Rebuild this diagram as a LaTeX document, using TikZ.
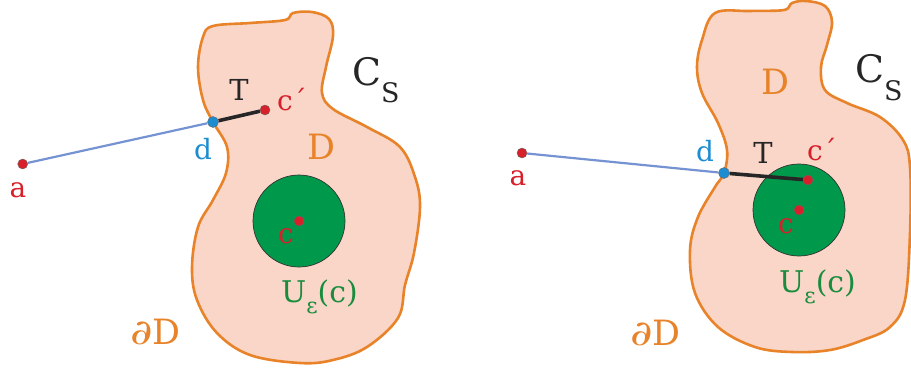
\documentclass[tikz,border=0pt]{standalone}
\usepackage{fontspec}
\setmainfont{DejaVu Serif}
\newfontfamily\lserif{DejaVu Serif}
\definecolor{peach}{HTML}{F9D6C8}
\definecolor{orng}{HTML}{E8832A}
\definecolor{grn}{HTML}{00984A}
\definecolor{rd}{HTML}{D7202A}
\definecolor{blu}{HTML}{1E8CD0}
\definecolor{lblu}{HTML}{7593D2}
\definecolor{lblgrn}{HTML}{1A8C3E}
\tikzset{
  region/.style={draw=orng, line width=2.6bp, fill=peach},
  nbhd/.style={fill=grn, draw=black!80, line width=0.7bp},
  reddot/.style={circle, fill=rd, draw=black!60, line width=0.4bp, inner sep=0pt, minimum size=10bp},
  bludot/.style={circle, fill=blu, draw=black!60, line width=0.4bp, inner sep=0pt, minimum size=11bp},
  ray/.style={draw=lblu, line width=2.2bp},
  seg/.style={draw=black!85, line width=3.6bp},
  lbl/.style={inner sep=0pt, font=\lserif\fontsize{28}{28}\selectfont},
  redlbl/.style={lbl, text=rd},
  blulbl/.style={lbl, text=blu},
  blklbl/.style={lbl, text=black!85, font=\lserif\fontsize{29}{29}\selectfont},
  Dlbl/.style={inner sep=0pt, text=orng, font=\lserif\fontsize{35}{35}\selectfont},
  Cslbl/.style={inner sep=0pt, text=black!85, anchor=base west, font=\lserif\fontsize{38}{38}\selectfont},
  Ulbl/.style={inner sep=0pt, text=lblgrn, anchor=base west, font=\lserif\fontsize{30}{30}\selectfont},
  dDlbl/.style={inner sep=0pt, text=orng, anchor=base west, font=\lserif\fontsize{35}{35}\selectfont},
}
\newcommand{\subS}[1]{\raisebox{#1}{\fontsize{27}{27}\selectfont S}}
\newcommand{\subeps}{\raisebox{-11bp}{\fontsize{22}{22}\selectfont ε}}
\newcommand{\bdry}{\scalebox{1.25}[1]{∂}D}
\begin{document}
\begin{tikzpicture}[x=1bp, y=-1bp]
\useasboundingbox (0,0) rectangle (911,367);
% ---------- left figure ----------
\draw[region] plot[smooth cycle, tension=0.6] coordinates {
 (213,26) (250,23) (285,20) (293,13) (312,12) (329,19) (333,36) (326,67) (322,93)
 (333,109) (367,127) (400,147) (415,177) (420,207) (414,253) (405,285) (398,318)
 (367,347) (333,360) (300,363) (250,355) (217,333) (197,300) (192,267) (198,227)
 (213,200) (226,173) (227,147) (213,122) (203,100) (198,67) (203,37)};
\draw[nbhd] (299,221) circle[radius=46];
\node[reddot] (La) at (22.7,164) {};
\node[bludot] (Ld) at (213,122) {};
\node[reddot] (Lcp) at (265,110) {};
\node[reddot] (Lc) at (299,221) {};
\draw[ray] (La) -- (Ld);
\draw[seg] (Ld) -- (Lcp);
\node[redlbl] (Lal) at (18,190) {a};
\node[blulbl] (Ldl) at (203,149) {d};
\node[blklbl] (LT) at (239,90) {T};
\node[redlbl, anchor=base west] (Lcpl) at (277,110) {c´};
\node[Dlbl] (LD) at (321,147) {D};
\node[Cslbl] (LCs) at (352,85) {C\subS{-17bp}};
\node[redlbl] (Lcl) at (286,236) {c};
\node[Ulbl] (LU) at (281,302) {U\subeps(c)};
\node[dDlbl] (LdD) at (130,344) {\bdry};
% ---------- right figure ----------
\draw[region] plot[smooth cycle, tension=0.6] coordinates {
 (715,13) (750,11) (784,10) (792,3) (806,1) (825,6) (832,22) (827,45) (821,67)
 (825,90) (847,103) (880,117) (903,140) (910,167) (910,233) (905,300) (890,327)
 (863,340) (830,350) (792,352) (755,347) (718,327) (695,293) (690,250) (698,217)
 (715,187) (724,173) (727,150) (718,123) (702,93) (697,67) (702,40)};
\draw[nbhd] (799,210) circle[radius=46];
\node[reddot] (Ra) at (522,153) {};
\node[bludot] (Rd) at (724,173) {};
\node[reddot] (Rcp) at (808,180) {};
\node[reddot] (Rc) at (799,210) {};
\draw[ray] (Ra) -- (Rd);
\draw[seg] (Rd) -- (Rcp);
\node[redlbl] (Ral) at (518,178) {a};
\node[blulbl] (Rdl) at (705,151) {d};
\node[blklbl] (RT) at (763,153) {T};
\node[redlbl, anchor=base west] (Rcpl) at (807,160) {c´};
\node[Dlbl] (RD) at (775,82) {D};
\node[Cslbl] (RCs) at (855,82) {C\subS{-18bp}};
\node[redlbl] (Rcl) at (786,226) {c};
\node[Ulbl] (RU) at (779,292) {U\subeps(c)};
\node[dDlbl] (RdD) at (630,345) {\bdry};
\end{tikzpicture}
\end{document}
